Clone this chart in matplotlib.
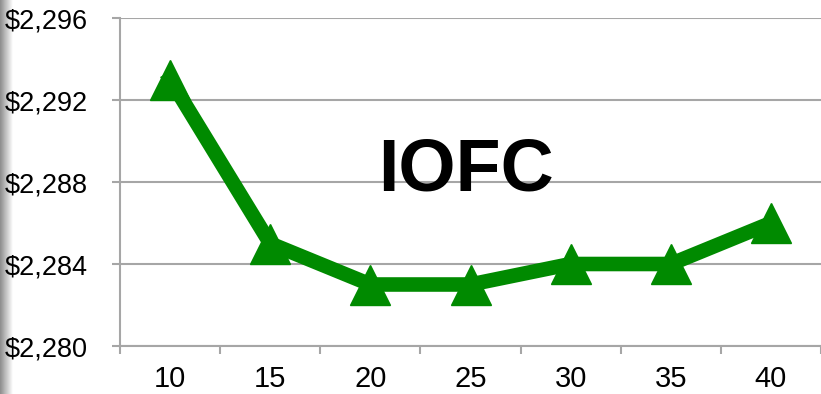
import numpy as np
import matplotlib.pyplot as plt

# IOFC by level
levels = ['10', '15', '20', '25', '30', '35', '40']
iofc = [2293, 2285, 2283, 2283, 2284, 2284, 2286]
y_ticks = [2280, 2284, 2288, 2292, 2296]

plt.rcParams['font.family'] = ['Liberation Sans', 'DejaVu Sans']

fig = plt.figure(figsize=(8.21, 3.94), dpi=100)

# soft shadow along the left edge
shade = np.linspace(0.55, 1.0, 64).reshape(1, -1)
bg = fig.add_axes([0, 0, 12 / 821, 1])
bg.imshow(shade, cmap='gray', vmin=0, vmax=1, aspect='auto', interpolation='bilinear')
bg.axis('off')

ax = fig.add_axes([120 / 821, 48 / 394, 701 / 821, 328 / 394])
x = np.arange(len(levels))
ax.plot(x, iofc, color='#008a00', lw=10.5, marker='^', ms=29,
        solid_joinstyle='miter', zorder=3)

ax.set_ylim(2280, 2296)
ax.set_yticks(y_ticks)
ax.set_yticklabels(['${:,}'.format(v) for v in y_ticks])
ax.set_xlim(-0.5, 6.43)
ax.set_xticks(x)
ax.set_xticklabels(levels)
ax.set_xticks(list(np.arange(len(levels) + 1) - 0.5), minor=True)

ax.grid(axis='y', color='#a6a6a6', lw=1.5, zorder=0)
for s in ['top', 'right']:
    ax.spines[s].set_visible(False)
for s in ['left', 'bottom']:
    ax.spines[s].set_color('#a6a6a6')
    ax.spines[s].set_linewidth(1.5)

ax.tick_params(axis='y', length=6, width=1.5, color='#a6a6a6', pad=17, labelsize=19.5)
ax.tick_params(axis='x', which='major', length=0, pad=14, labelsize=21)
ax.tick_params(axis='x', which='minor', length=6, width=1.5, color='#a6a6a6')

ax.text(0.494, 0.535, 'IOFC', transform=ax.transAxes, ha='center', va='center',
        fontsize=53, fontweight='bold')

fig.savefig('out.png', dpi=100)
